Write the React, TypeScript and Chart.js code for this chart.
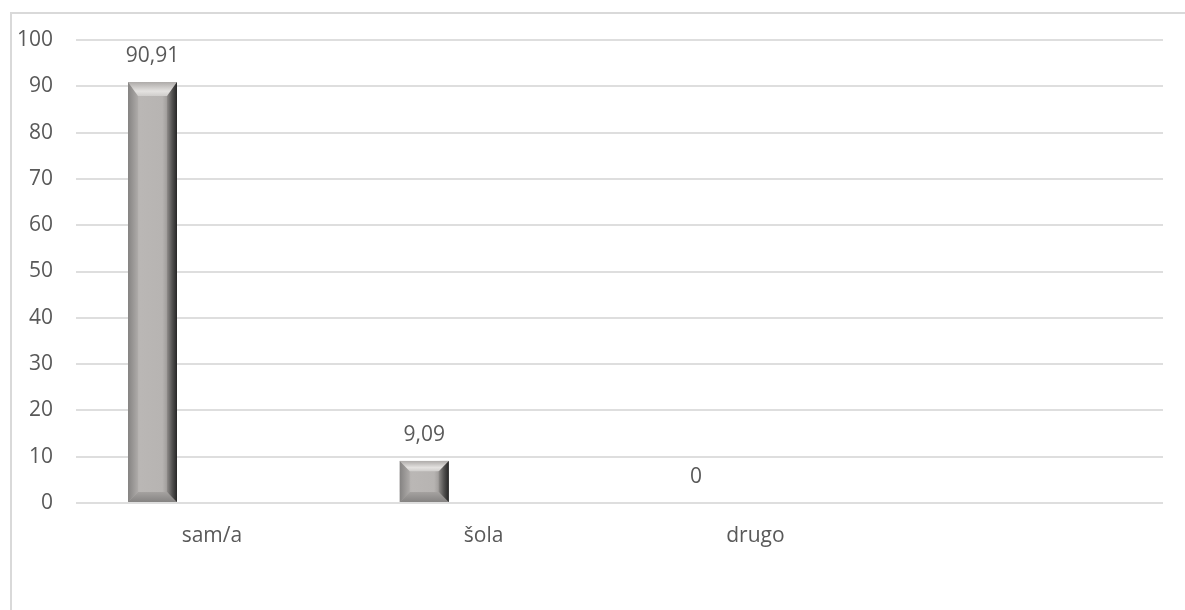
import React, { useEffect, useRef } from "react";
import { Chart, registerables } from "chart.js";

Chart.register(...registerables);

const categories = ["sam/a", "šola", "drugo", ""];
const values = [90.91, 9.09, 0, null];
const emptySeries = [null, null, null, null];
const yMin = 0;
const yMax = 100;
const yStep = 10;

const FONT = "'Open Sans', sans-serif";
const TEXT = "#595959";
const FSIZE = 21;

const bevelBars = {
  id: "bevelBars",
  afterDatasetsDraw(chart: any) {
    const ctx = chart.ctx as CanvasRenderingContext2D;
    const meta = chart.getDatasetMeta(0);
    const data = chart.data.datasets[0].data as (number | null)[];
    meta.data.forEach((el: any, i: number) => {
      const v = data[i];
      if (v === null || v === undefined) return;
      const { x, y, base, width } = el.getProps(["x", "y", "base", "width"], true);
      const x0 = x - width / 2;
      const x1 = x + width / 2;
      const top = Math.min(y, base);
      const bot = Math.max(y, base);
      const h = bot - top;
      ctx.save();
      if (h > 0.5) {
        const b = Math.min(14, h / 4, width / 3.5);
        const bs = Math.min(10, h / 4, width / 4.5);
        // face
        const g = ctx.createLinearGradient(x0, 0, x1, 0);
        g.addColorStop(0, "#8d8b8a");
        g.addColorStop(0.05, "#aaa7a5");
        g.addColorStop(0.25, "#bab7b5");
        g.addColorStop(0.7, "#b7b4b2");
        g.addColorStop(0.8, "#a19e9c");
        g.addColorStop(0.9, "#5f5d5c");
        g.addColorStop(1, "#2c2c2c");
        ctx.fillStyle = g;
        ctx.fillRect(x0, top, width, h);
        // left bevel
        const gl = ctx.createLinearGradient(x0, 0, x0 + bs, 0);
        gl.addColorStop(0, "#858382");
        gl.addColorStop(1, "#aeaba9");
        ctx.fillStyle = gl;
        ctx.beginPath();
        ctx.moveTo(x0, top);
        ctx.lineTo(x0 + bs, top + b);
        ctx.lineTo(x0 + bs, bot - bs);
        ctx.lineTo(x0, bot);
        ctx.closePath();
        ctx.fill();
        // right bevel
        const gr = ctx.createLinearGradient(x1 - bs, 0, x1, 0);
        gr.addColorStop(0, "#8f8c8a");
        gr.addColorStop(0.5, "#555453");
        gr.addColorStop(1, "#262626");
        ctx.fillStyle = gr;
        ctx.beginPath();
        ctx.moveTo(x1, top);
        ctx.lineTo(x1, bot);
        ctx.lineTo(x1 - bs, bot - bs);
        ctx.lineTo(x1 - bs, top + b);
        ctx.closePath();
        ctx.fill();
        // top bevel
        const gt = ctx.createLinearGradient(0, top, 0, top + b);
        gt.addColorStop(0, "#aeaba9");
        gt.addColorStop(0.65, "#e4e2e0");
        gt.addColorStop(1, "#cfcdcb");
        ctx.fillStyle = gt;
        ctx.beginPath();
        ctx.moveTo(x0, top);
        ctx.lineTo(x1, top);
        ctx.lineTo(x1 - bs, top + b);
        ctx.lineTo(x0 + bs, top + b);
        ctx.closePath();
        ctx.fill();
        // bottom bevel
        const gb = ctx.createLinearGradient(0, bot - bs, 0, bot);
        gb.addColorStop(0, "#a5a2a0");
        gb.addColorStop(1, "#858382");
        ctx.fillStyle = gb;
        ctx.beginPath();
        ctx.moveTo(x0, bot);
        ctx.lineTo(x0 + bs, bot - bs);
        ctx.lineTo(x1 - bs, bot - bs);
        ctx.lineTo(x1, bot);
        ctx.closePath();
        ctx.fill();
      }
      // label
      ctx.fillStyle = TEXT;
      ctx.font = `${FSIZE}px ${FONT}`;
      ctx.textAlign = "center";
      ctx.textBaseline = "middle";
      ctx.fillText(String(v).replace(".", ","), x, top - 26);
      ctx.restore();
    });
  },
};

export default function App() {
  const ref = useRef<HTMLCanvasElement>(null);
  useEffect(() => {
    if (!ref.current) return;
    const chart = new Chart(ref.current, {
      type: "bar",
      data: {
        labels: categories,
        datasets: [
          {
            data: values as any,
            backgroundColor: "rgba(0,0,0,0)",
            categoryPercentage: 0.874,
            barPercentage: 0.412,
          },
          {
            data: emptySeries as any,
            backgroundColor: "rgba(0,0,0,0)",
            categoryPercentage: 0.874,
            barPercentage: 0.412,
          },
        ],
      },
      options: {
        responsive: false,
        animation: false,
        layout: { padding: { top: 40, right: 22, left: 0, bottom: 0 } },
        plugins: {
          legend: { display: false },
          tooltip: { enabled: false },
        },
        scales: {
          x: {
            grid: { display: false },
            border: { display: false },
            ticks: {
              color: TEXT,
              font: { family: FONT, size: FSIZE },
              padding: 12,
              maxRotation: 0,
            },
            afterFit(scale: any) {
              scale.height = 107;
            },
          },
          y: {
            min: yMin,
            max: yMax,
            grid: { color: "#dedede", lineWidth: 2, drawTicks: false },
            border: { display: false },
            ticks: {
              stepSize: yStep,
              color: TEXT,
              font: { family: FONT, size: FSIZE },
              padding: 23,
            },
            afterFit(scale: any) {
              scale.width = 76;
            },
          },
        },
      },
      plugins: [bevelBars],
    });
    return () => chart.destroy();
  }, []);
  return (
    <div
      style={{
        position: "fixed",
        left: 0,
        top: 0,
        width: 1185,
        height: 610,
        overflow: "hidden",
        background: "#fff",
      }}
    >
      <div
        style={{
          position: "absolute",
          left: 10,
          top: 12,
          width: 1300,
          height: 800,
          border: "2px solid #d9d9d9",
        }}
      />
      <canvas
        ref={ref}
        width={1185}
        height={610}
        style={{ position: "absolute", left: 0, top: 0 }}
      />
    </div>
  );
}
